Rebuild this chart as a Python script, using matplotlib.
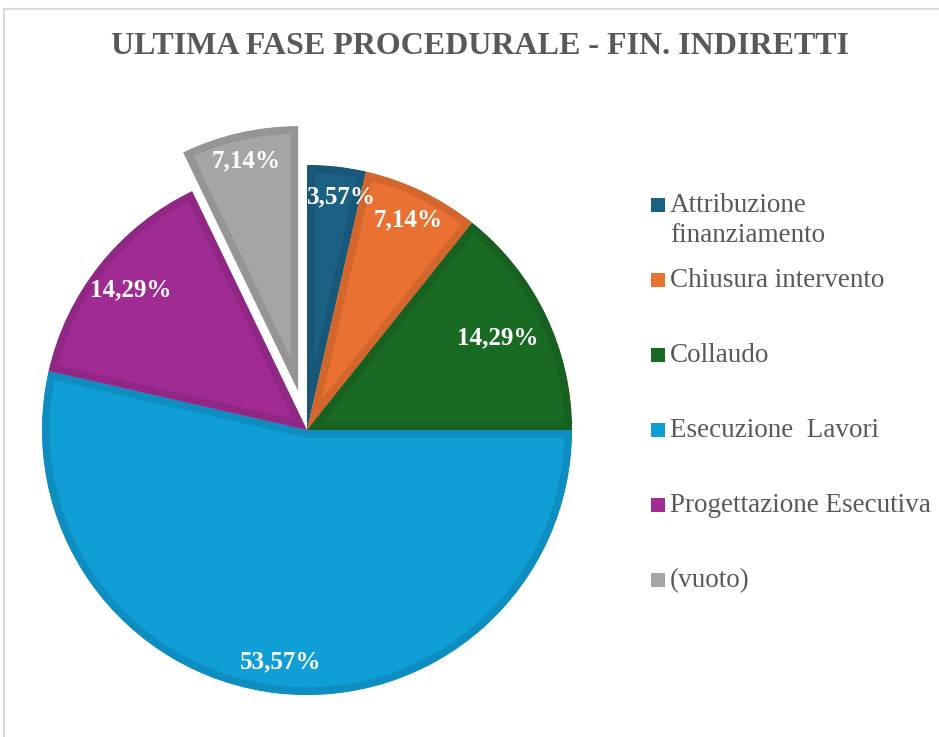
import numpy as np
import matplotlib.pyplot as plt
import matplotlib.colors as mcolors
from matplotlib.patches import Rectangle

categories = ["Attribuzione\nfinanziamento", "Chiusura intervento", "Collaudo",
              "Esecuzione  Lavori", "Progettazione Esecutiva", "(vuoto)"]
percentages = [3.57, 7.14, 14.29, 53.57, 14.29, 7.14]
colors = ["#1B6184", "#E97132", "#196B24", "#0F9ED5", "#A02B93", "#A5A5A5"]
explode = [0, 0, 0, 0, 0, 0.15]
# label placement: fraction of radius and angular nudge (deg) for each slice
label_dist = [0.89, 0.88, 0.80, 0.88, 0.85, 0.89]
label_nudge = [-2.0, 0, 0, 0, 0, 0]

title = "ULTIMA FASE PROCEDURALE - FIN. INDIRETTI"
serif = ["Liberation Serif", "DejaVu Serif"]
grey_text = "#595959"

W, H = 939, 737
fig = plt.figure(figsize=(W / 100, H / 100), dpi=100)

# light chart-area frame (only left/top visible in the crop)
fig.patches.append(Rectangle((4 / W, -0.1), 1.2, 1 - 9 / H + 0.1, transform=fig.transFigure,
                             fill=False, edgecolor="#D9D9D9", linewidth=1.5))

# pie axes: center (307, 430) px, radius 265 px
r = 265
cx, cy = 307, H - 430
xlim, ylim = (-1.1, 1.1), (-1.1, 1.2)
ax = fig.add_axes([(cx + xlim[0] * r) / W, (cy + ylim[0] * r) / H,
                   (xlim[1] - xlim[0]) * r / W, (ylim[1] - ylim[0]) * r / H])
edge_colors = [tuple(np.array(mcolors.to_rgb(c)) * 0.9) for c in colors]
wedges, texts, autotexts = ax.pie(
    percentages, colors=colors, explode=explode, startangle=90, counterclock=False,
    autopct=lambda p: f"{p:.2f}%".replace(".", ","),
    wedgeprops=dict(linewidth=11), textprops=dict(color="white"))
ax.set_xlim(*xlim)
ax.set_ylim(*ylim)
ax.set_aspect("equal")
# darker border drawn only on the inside of each slice
for w, ec in zip(wedges, edge_colors):
    w.set_edgecolor(ec)
    w.set_clip_on(True)
    w.set_clip_box(None)
    w.set_clip_path(w.get_path(), w.get_transform())
for w, t, d, nd in zip(wedges, autotexts, label_dist, label_nudge):
    mid = np.deg2rad((w.theta1 + w.theta2) / 2 + nd)
    t.set_position((w.center[0] + d * np.cos(mid), w.center[1] + d * np.sin(mid)))
    t.set_fontfamily(serif)
    t.set_fontweight("bold")
    t.set_fontsize(18)
ax.axis("off")

fig.text(480 / W, 1 - 47 / H, title, ha="center", va="center", fontsize=23,
         fontweight="bold", color=grey_text, family=serif)

# legend drawn entry by entry: marker centres every 75 px
y0, step, line_pitch = 205, 75, 30
for i, (lab, col) in enumerate(zip(categories, colors)):
    y = y0 + i * step
    fig.patches.append(Rectangle((651 / W, 1 - (y + 7) / H), 14 / W, 14 / H,
                                 transform=fig.transFigure, facecolor=col, edgecolor="none"))
    for k, line in enumerate(lab.split("\n")):
        fig.text(670 / W, 1 - (y + 7 + k * line_pitch) / H, line, ha="left", va="baseline",
                 fontsize=19.5, color=grey_text, family=serif)

fig.savefig("out.png", dpi=100)
